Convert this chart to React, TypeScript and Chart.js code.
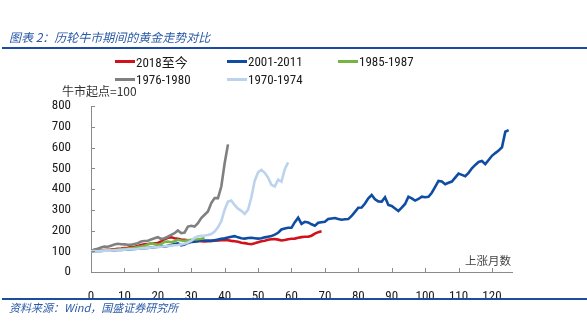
import React, { useEffect, useRef } from "react";
import { Chart, registerables } from "chart.js";

Chart.register(...registerables);

const TITLE = "图表 2：历轮牛市期间的黄金走势对比";
const SOURCE = "资料来源：Wind，国盛证券研究所";
const Y_UNIT = "牛市起点=100";
const X_UNIT = "上涨月数";

const SERIES_NAMES = ["2018至今", "2001-2011", "1985-1987", "1976-1980", "1970-1974"];
const SERIES_COLORS = ["#d0121b", "#0f4ca3", "#74b544", "#808080", "#bcd3ee"];

const X_MAX = 126;
const X_TICKS = [0, 10, 20, 30, 40, 50, 60, 70, 80, 90, 100, 110, 120];
const Y_MAX = 800;
const Y_STEP = 100;

const red2018 = [
  100, 102, 104, 105, 106, 107, 108, 110, 112, 113,
  115, 117, 120, 122, 125, 130, 133, 135, 137, 138,
  140, 148, 158, 165, 167, 163, 160, 157, 155, 153,
  152, 150, 150, 148, 147, 148, 150, 151, 152, 153,
  155, 153, 150, 148, 146, 141, 139, 136, 134, 138,
  143, 148, 151, 155, 158, 159, 156, 152, 154, 158,
  160, 161, 165, 168, 170, 170, 175, 185, 192, 196,
];

const blue2001 = [
  100, 101, 102, 101, 103, 104, 103, 105, 106, 106,
  107, 108, 110, 111, 112, 114, 115, 116, 118, 120,
  122, 124, 123, 126, 130, 135, 138, 128, 132, 140,
  145, 146, 148, 154, 152, 151, 150, 153, 156, 160,
  162, 166, 170, 173, 167, 163, 161, 164, 165, 163,
  161, 163, 167, 170, 173, 180, 189, 205, 210, 213,
  213, 240, 262, 232, 242, 239, 230, 223, 237, 240,
  242, 255, 258, 260, 255, 252, 254, 255, 270, 290,
  310, 311, 330, 355, 371, 350, 340, 339, 360, 323,
  318, 306, 294, 310, 328, 363, 355, 344, 352, 363,
  360, 362, 382, 410, 439, 436, 423, 430, 436, 455,
  474, 468, 462, 478, 500, 516, 530, 535, 520, 540,
  560, 573, 585, 601, 676, 684,
];

const green1985 = [
  100, 101, 102, 103, 104, 105, 106, 107, 108, 110,
  112, 113, 115, 117, 120, 123, 127, 133, 138, 135,
  131, 135, 145, 147, 143, 148, 155, 152, 150, 153,
  155, 157, 158, 160, 163,
];

const gray1976 = [
  100, 108, 112, 118, 123, 122, 127, 132, 136, 134,
  133, 131, 131, 135, 139, 147, 149, 151, 157, 163,
  168, 159, 163, 170, 179, 187, 200, 187, 190, 219,
  223, 219, 235, 260, 276, 292, 332, 356, 356, 412,
  524, 615,
];

const light1970 = [
  100, 101, 100, 102, 103, 104, 103, 105, 106, 107,
  108, 109, 110, 111, 112, 114, 115, 116, 118, 119,
  120, 122, 124, 125, 127, 129, 130, 133, 136, 142,
  150, 165, 172, 175, 176, 178, 183, 195, 215, 245,
  300, 340, 345, 322, 305, 295, 280, 300, 360, 440,
  480, 492, 478, 455, 420, 412, 445, 435, 495, 528,
];

const SERIES_VALUES = [red2018, blue2001, green1985, gray1976, light1970];

const AXIS_COLOR = "#8a8a8a";
const NUM_FONT = '"Liberation Sans Narrow", "Roboto Condensed", "Liberation Sans", Arial';
const CJK_FONT = '"Noto Sans CJK SC", "Noto Sans", sans-serif';
const TITLE_BLUE = "#2a5aa6";
const RULE_BLUE = "#1b4c9e";

const innerTicks = {
  id: "innerTicks",
  afterDraw(chart: any) {
    const { ctx, chartArea, scales } = chart;
    const x = scales.x;
    const y = scales.y;
    ctx.save();
    ctx.strokeStyle = AXIS_COLOR;
    ctx.lineWidth = 1;
    ctx.beginPath();
    x.ticks.forEach((t: any) => {
      const px = Math.round(x.getPixelForValue(t.value)) + 0.5;
      ctx.moveTo(px, chartArea.bottom);
      ctx.lineTo(px, chartArea.bottom - 4);
    });
    y.ticks.forEach((t: any) => {
      const py = Math.round(y.getPixelForValue(t.value)) + 0.5;
      ctx.moveTo(chartArea.left, py);
      ctx.lineTo(chartArea.left + 4, py);
    });
    ctx.stroke();
    ctx.restore();
  },
};

export default function App() {
  const canvasRef = useRef<HTMLCanvasElement | null>(null);

  useEffect(() => {
    document.body.style.margin = "0";
    const canvas = canvasRef.current;
    if (!canvas) return;
    const datasets = SERIES_NAMES.map((name, i) => ({
      label: name,
      data: SERIES_VALUES[i].map((v, m) => ({ x: m, y: v })),
      borderColor: SERIES_COLORS[i],
      backgroundColor: SERIES_COLORS[i],
      borderWidth: 2.6,
      pointRadius: 0,
      tension: 0,
      fill: false,
      order: SERIES_NAMES.length - i,
    }));
    const chart = new Chart(canvas, {
      type: "line",
      data: { datasets },
      plugins: [innerTicks],
      options: {
        animation: false,
        responsive: false,
        devicePixelRatio: 1,
        layout: { padding: { left: 0, top: 106, right: 75, bottom: 30 } },
        plugins: {
          legend: { display: false },
          tooltip: { enabled: false },
          title: { display: false },
        },
        scales: {
          x: {
            type: "linear",
            min: 0,
            max: X_MAX,
            afterFit: (s: any) => {
              s.height = 32;
            },
            afterBuildTicks: (s: any) => {
              s.ticks = X_TICKS.map((v) => ({ value: v }));
            },
            ticks: {
              padding: 9,
              color: "#1a1a1a",
              maxRotation: 0,
              autoSkip: false,
              font: { family: NUM_FONT, size: 13 },
            },
            grid: { display: false },
            border: { display: true, color: AXIS_COLOR, width: 1 },
          },
          y: {
            type: "linear",
            min: 0,
            max: Y_MAX,
            afterFit: (s: any) => {
              s.width = 91;
            },
            ticks: {
              stepSize: Y_STEP,
              padding: 12,
              color: "#1a1a1a",
              font: { family: NUM_FONT, size: 13 },
            },
            grid: { display: false },
            border: { display: true, color: AXIS_COLOR, width: 1 },
          },
        },
      },
    } as any);
    return () => chart.destroy();
  }, []);

  const legendRows = [
    [0, 1, 2],
    [3, 4],
  ];
  const legendX = [115, 227, 338];
  const legendY = [61, 79];

  return (
    <div style={{ position: "fixed", left: 0, top: 0, width: 587, height: 334, background: "#fff", overflow: "hidden" }}>
      <canvas ref={canvasRef} width={587} height={334} style={{ position: "absolute", left: 0, top: 0, width: 587, height: 334, display: "block" }} />
      <div style={{ position: "absolute", left: 9, top: 29, height: 16, lineHeight: "16px", fontFamily: CJK_FONT, fontStyle: "italic", fontSize: 12, color: TITLE_BLUE, whiteSpace: "nowrap" }}>
        {TITLE}
      </div>
      <div style={{ position: "absolute", left: 2, top: 47, width: 585, height: 2, background: RULE_BLUE }} />
      {legendRows.map((row, r) =>
        row.map((idx, c) => (
          <div key={idx} style={{ position: "absolute", left: legendX[c], top: legendY[r] - 9, height: 18, display: "flex", alignItems: "center", whiteSpace: "nowrap" }}>
            <div style={{ width: 20, height: 3, background: SERIES_COLORS[idx], marginRight: 1 }} />
            <span style={{ fontFamily: `${NUM_FONT}, ${CJK_FONT}`, fontSize: 13, color: "#1a1a1a" }}>{SERIES_NAMES[idx]}</span>
          </div>
        ))
      )}
      <div style={{ position: "absolute", left: 62, top: 82, height: 18, lineHeight: "18px", fontFamily: CJK_FONT, fontSize: 12, color: "#333", whiteSpace: "nowrap" }}>
        {Y_UNIT}
      </div>
      <div style={{ position: "absolute", left: 465, top: 251, height: 18, lineHeight: "18px", fontFamily: CJK_FONT, fontSize: 11.5, color: "#444", whiteSpace: "nowrap" }}>
        {X_UNIT}
      </div>
      <div style={{ position: "absolute", left: 2, top: 298, width: 585, height: 2, background: RULE_BLUE }} />
      <div style={{ position: "absolute", left: 9, top: 299, height: 16, lineHeight: "16px", fontFamily: CJK_FONT, fontStyle: "italic", fontSize: 11, color: TITLE_BLUE, whiteSpace: "nowrap" }}>
        {SOURCE}
      </div>
    </div>
  );
}
